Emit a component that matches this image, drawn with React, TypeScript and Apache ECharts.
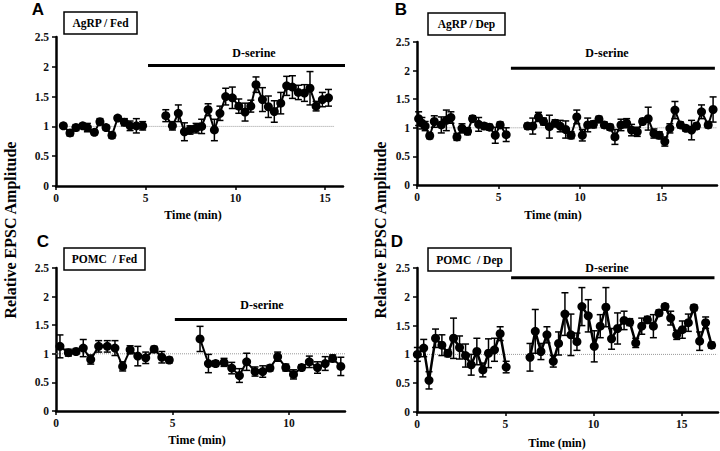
import React, { useEffect, useRef } from "react";
import * as echarts from "echarts";

// ---------- DATA ----------
const PANEL_TITLES = ["AgRP / Fed", "AgRP / Dep", "POMC  / Fed", "POMC  / Dep"];
const PANEL_LETTERS = ["A", "B", "C", "D"];
const DRUG_LABEL = "D-serine";
const X_TICKS = [0, 5, 10, 15];
const Y_TICKS = [0, 0.5, 1, 1.5, 2, 2.5];

// Panel A – AgRP / Fed
const A_PRE_T = [0.41, 0.78, 1.11, 1.49, 1.75, 2.14, 2.45, 2.79, 3.12, 3.44, 3.81, 4.13, 4.48, 4.83];
const A_PRE_V = [1.01, 0.89, 0.98, 1.01, 0.98, 0.9, 1.08, 0.98, 0.85, 1.14, 1.07, 1.01, 1.01, 1.01];
const A_PRE_E = [0.04, 0.05, 0.05, 0.04, 0.07, 0.04, 0.05, 0.04, 0.05, 0.04, 0.06, 0.08, 0.12, 0.07];
const A_POST_T = [6.12, 6.49, 6.82, 7.16, 7.47, 7.81, 8.12, 8.48, 8.83, 9.14, 9.46, 9.83, 10.19, 10.54, 10.86, 11.15, 11.51, 11.84, 12.17, 12.53, 12.86, 13.18, 13.51, 13.85, 14.16, 14.5, 14.85, 15.19];
const A_POST_V = [1.18, 1.01, 1.22, 0.91, 0.94, 0.97, 1.0, 1.28, 0.94, 1.22, 1.5, 1.48, 1.34, 1.24, 1.34, 1.7, 1.45, 1.33, 1.25, 1.39, 1.68, 1.66, 1.57, 1.56, 1.64, 1.34, 1.45, 1.48];
const A_POST_E = [0.1, 0.07, 0.14, 0.15, 0.07, 0.08, 0.12, 0.1, 0.18, 0.12, 0.14, 0.18, 0.12, 0.15, 0.1, 0.13, 0.2, 0.18, 0.18, 0.18, 0.16, 0.19, 0.12, 0.14, 0.28, 0.08, 0.12, 0.14];

// Panel B – AgRP / Dep
const B_PRE_T = [0.1, 0.3, 0.5, 0.78, 1.06, 1.49, 1.8, 2.08, 2.45, 2.76, 3.1, 3.41, 3.78, 4.12, 4.45, 4.8, 5.1, 5.47];
const B_PRE_V = [1.16, 1.08, 1.03, 0.86, 1.11, 1.05, 1.13, 1.18, 0.84, 0.99, 0.94, 1.16, 1.06, 1.03, 1.01, 0.87, 1.05, 0.88];
const B_PRE_E = [0.12, 0.1, 0.08, 0.05, 0.1, 0.14, 0.18, 0.1, 0.06, 0.08, 0.06, 0.05, 0.12, 0.05, 0.05, 0.14, 0.05, 0.12];
const B_POST_T = [6.78, 7.1, 7.45, 7.76, 8.12, 8.47, 8.78, 9.12, 9.45, 9.8, 10.14, 10.47, 10.82, 11.16, 11.49, 11.84, 12.14, 12.51, 12.86, 13.16, 13.51, 13.84, 14.18, 14.53, 14.86, 15.2, 15.51, 15.82, 16.16, 16.49, 16.84, 17.14, 17.45, 17.86, 18.16];
const B_POST_V = [1.03, 1.03, 1.19, 1.11, 1.02, 1.08, 1.03, 0.97, 0.87, 1.19, 0.87, 1.05, 1.06, 1.15, 1.05, 1.01, 0.84, 1.05, 1.08, 0.96, 0.93, 1.11, 1.16, 0.9, 0.87, 0.76, 0.99, 1.31, 1.05, 0.99, 0.96, 1.03, 1.28, 1.05, 1.32];
const B_POST_E = [0.05, 0.14, 0.08, 0.06, 0.2, 0.06, 0.1, 0.15, 0.06, 0.12, 0.1, 0.12, 0.06, 0.05, 0.05, 0.05, 0.13, 0.1, 0.08, 0.1, 0.08, 0.05, 0.2, 0.08, 0.06, 0.08, 0.08, 0.15, 0.05, 0.05, 0.17, 0.05, 0.12, 0.05, 0.22];

// Panel C – POMC / Fed
const C_PRE_T = [0.17, 0.53, 0.86, 1.17, 1.49, 1.83, 2.2, 2.53, 2.86, 3.18, 3.51, 3.85, 4.21, 4.54, 4.86];
const C_PRE_V = [1.13, 1.02, 1.04, 1.1, 0.9, 1.13, 1.13, 1.1, 0.78, 1.07, 0.96, 0.93, 1.08, 0.94, 0.89];
const C_PRE_E = [0.2, 0.06, 0.05, 0.15, 0.08, 0.1, 0.1, 0.13, 0.08, 0.07, 0.17, 0.1, 0.05, 0.1, 0.05];
const C_POST_T = [6.18, 6.54, 6.85, 7.21, 7.54, 7.87, 8.18, 8.54, 8.87, 9.18, 9.51, 9.86, 10.19, 10.54, 10.87, 11.22, 11.55, 11.87, 12.22];
const C_POST_V = [1.26, 0.83, 0.83, 0.85, 0.75, 0.62, 0.86, 0.69, 0.69, 0.75, 0.95, 0.76, 0.64, 0.76, 0.86, 0.76, 0.83, 0.92, 0.78];
const C_POST_E = [0.22, 0.16, 0.05, 0.07, 0.1, 0.12, 0.15, 0.08, 0.1, 0.05, 0.08, 0.06, 0.08, 0.05, 0.1, 0.1, 0.12, 0.06, 0.16];

// Panel D – POMC / Dep
const D_PRE_T = [0.02, 0.38, 0.68, 1.05, 1.41, 1.75, 2.07, 2.41, 2.75, 3.07, 3.39, 3.73, 4.05, 4.39, 4.71, 5.05];
const D_PRE_V = [1.0, 1.11, 0.55, 1.28, 1.16, 1.02, 1.28, 1.12, 0.98, 0.82, 1.05, 0.73, 1.02, 1.08, 1.36, 0.78];
const D_PRE_E = [0.12, 0.15, 0.15, 0.16, 0.18, 0.06, 0.35, 0.2, 0.2, 0.18, 0.23, 0.12, 0.25, 0.2, 0.12, 0.1];
const D_POST_T = [6.4, 6.7, 7.02, 7.36, 7.72, 8.02, 8.38, 8.72, 9.06, 9.34, 9.7, 10.04, 10.38, 10.7, 11.02, 11.36, 11.73, 12.05, 12.39, 12.73, 13.05, 13.39, 13.71, 14.05, 14.37, 14.71, 15.03, 15.37, 15.69, 16.01, 16.35, 16.69];
const D_POST_V = [0.95, 1.4, 1.05, 1.34, 0.88, 1.19, 1.7, 1.34, 1.22, 1.83, 1.67, 1.14, 1.49, 1.82, 1.27, 1.45, 1.59, 1.56, 1.2, 1.49, 1.6, 1.49, 1.72, 1.83, 1.63, 1.34, 1.43, 1.55, 1.81, 1.23, 1.55, 1.16];
const D_POST_E = [0.24, 0.38, 0.14, 0.14, 0.1, 0.2, 0.37, 0.36, 0.15, 0.33, 0.28, 0.27, 0.2, 0.34, 0.18, 0.27, 0.16, 0.06, 0.08, 0.14, 0.06, 0.2, 0.05, 0.05, 0.12, 0.08, 0.15, 0.15, 0.05, 0.16, 0.1, 0.05];

// axis extents, drug application bar (start, end, level), baseline extent
const X_MAX = [16, 18.4, 12.4, 17.05];
const DRUG_START = [5.13, 5.76, 5.1, 5.33];
const DRUG_END = [16.5, 18.27, 12.6, 16.85];
const DRUG_LEVEL = [2.02, 2.04, 1.6, 2.33];
const BASE_START = [0.3, 0.1, 0, 0];
const BASE_END = [15.5, 18.4, 12.45, 17.0];

// ---------- LAYOUT ----------
const GRIDS = [
  { left: 56, top: 37, width: 287, height: 149 },
  { left: 417, top: 42, width: 300, height: 143 },
  { left: 56, top: 268, width: 289, height: 143 },
  { left: 417, top: 268, width: 301, height: 144 },
];
const SERIF = '"Liberation Serif", "Times New Roman", serif';
const SANS = '"Liberation Sans", Arial, sans-serif';

const PANELS = [
  { preT: A_PRE_T, preV: A_PRE_V, preE: A_PRE_E, postT: A_POST_T, postV: A_POST_V, postE: A_POST_E },
  { preT: B_PRE_T, preV: B_PRE_V, preE: B_PRE_E, postT: B_POST_T, postV: B_POST_V, postE: B_POST_E },
  { preT: C_PRE_T, preV: C_PRE_V, preE: C_PRE_E, postT: C_POST_T, postV: C_POST_V, postE: C_POST_E },
  { preT: D_PRE_T, preV: D_PRE_V, preE: D_PRE_E, postT: D_POST_T, postV: D_POST_V, postE: D_POST_E },
];

const LETTER_POS = [[38, 9], [401, 9], [43, 241], [397, 241]];
const BOX_POS = [[64, 12, 73, 22], [428, 13, 77, 22], [64, 248, 81, 22], [428, 248, 83, 23]];
const DRUG_TEXT_POS = [[254, 53], [607, 53], [262, 305], [607, 268]];
const TIME_TEXT_POS = [[193, 215], [553, 215], [197, 440], [557, 443]];
const YLABEL_POS = [[10, 230], [380, 230]];

function errorRenderItem(params: any, api: any) {
  const x = api.value(0);
  const lo = api.coord([x, api.value(1)]);
  const hi = api.coord([x, api.value(2)]);
  const w = 3.5;
  const style = { stroke: "#000", lineWidth: 1.5 };
  return {
    type: "group",
    children: [
      { type: "line", shape: { x1: hi[0], y1: hi[1], x2: lo[0], y2: lo[1] }, style },
      { type: "line", shape: { x1: hi[0] - w, y1: hi[1], x2: hi[0] + w, y2: hi[1] }, style },
      { type: "line", shape: { x1: lo[0] - w, y1: lo[1], x2: lo[0] + w, y2: lo[1] }, style },
    ],
  };
}

export default function App() {
  const ref = useRef<HTMLDivElement>(null);
  useEffect(() => {
    if (!ref.current) return;
    const chart = echarts.init(ref.current, null, { renderer: "svg" });

    const grid = GRIDS.map((g) => ({ ...g, containLabel: false }));
    const xAxis = PANELS.map((_, i) => ({
      type: "value",
      gridIndex: i,
      min: 0,
      max: X_MAX[i],
      splitLine: { show: false },
      axisLine: { show: true, lineStyle: { color: "#000", width: 2.5 } },
      axisTick: { show: true, length: 4, customValues: X_TICKS, lineStyle: { color: "#000", width: 1.5 } },
      axisLabel: {
        customValues: X_TICKS,
        color: "#111",
        fontFamily: SERIF,
        fontWeight: "bold",
        fontSize: 11.5,
        margin: 6,
      },
    }));
    const yAxis = PANELS.map((_, i) => ({
      type: "value",
      gridIndex: i,
      min: 0,
      max: 2.5,
      interval: 0.5,
      splitLine: { show: false },
      axisLine: { show: true, lineStyle: { color: "#000", width: 2.5 } },
      axisTick: { show: true, length: 4, lineStyle: { color: "#000", width: 1.5 } },
      axisLabel: {
        customValues: Y_TICKS,
        color: "#111",
        fontFamily: SERIF,
        fontWeight: "bold",
        fontSize: 11.5,
        margin: 7,
      },
    }));

    const series: any[] = [];
    PANELS.forEach((p, i) => {
      series.push({
        type: "line",
        xAxisIndex: i,
        yAxisIndex: i,
        data: [[BASE_START[i], 1], [BASE_END[i], 1]],
        symbol: "none",
        clip: false,
        lineStyle: { color: "#999", width: 1, type: "dotted" },
        z: 1,
      });
      series.push({
        type: "line",
        xAxisIndex: i,
        yAxisIndex: i,
        data: [[DRUG_START[i], DRUG_LEVEL[i]], [DRUG_END[i], DRUG_LEVEL[i]]],
        symbol: "none",
        clip: false,
        lineStyle: { color: "#000", width: 3 },
      });
      const lw = i === 3 ? 2.5 : 2;
      [[p.preT, p.preV], [p.postT, p.postV]].forEach(([t, v]) => {
        series.push({
          type: "line",
          xAxisIndex: i,
          yAxisIndex: i,
          data: t.map((x: number, k: number) => [x, v[k]]),
          symbol: "circle",
          symbolSize: 9,
          itemStyle: { color: "#000" },
          lineStyle: { color: "#000", width: lw },
          z: 3,
        });
      });
      const errData: number[][] = [];
      [[p.preT, p.preV, p.preE], [p.postT, p.postV, p.postE]].forEach(([t, v, e]) => {
        t.forEach((x: number, k: number) => errData.push([x, v[k] - e[k], v[k] + e[k]]));
      });
      series.push({
        type: "custom",
        xAxisIndex: i,
        yAxisIndex: i,
        data: errData,
        encode: { x: 0, y: [1, 2] },
        renderItem: errorRenderItem,
        z: 2,
      });
    });

    const graphic: any[] = [];
    PANELS.forEach((_, i) => {
      graphic.push({
        type: "text",
        x: LETTER_POS[i][0],
        y: LETTER_POS[i][1],
        style: { text: PANEL_LETTERS[i], font: `bold 17px ${SANS}`, fill: "#000", textAlign: "center", textVerticalAlign: "middle" },
      });
      const b = BOX_POS[i];
      graphic.push({
        type: "rect",
        shape: { x: b[0], y: b[1], width: b[2], height: b[3] },
        style: { fill: "#fff", stroke: "#000", lineWidth: 1.5 },
      });
      graphic.push({
        type: "text",
        x: b[0] + b[2] / 2,
        y: b[1] + b[3] / 2,
        style: { text: PANEL_TITLES[i], font: `bold 11.5px ${SERIF}`, fill: "#000", textAlign: "center", textVerticalAlign: "middle" },
      });
      graphic.push({
        type: "text",
        x: DRUG_TEXT_POS[i][0],
        y: DRUG_TEXT_POS[i][1],
        style: { text: DRUG_LABEL, font: `bold 12px ${SERIF}`, fill: "#000", textAlign: "center", textVerticalAlign: "middle" },
      });
      graphic.push({
        type: "text",
        x: TIME_TEXT_POS[i][0],
        y: TIME_TEXT_POS[i][1],
        style: { text: "Time (min)", font: `bold 12px ${SERIF}`, fill: "#000", textAlign: "center", textVerticalAlign: "middle" },
      });
    });
    YLABEL_POS.forEach(([x, y]) => {
      graphic.push({
        type: "text",
        x,
        y,
        rotation: Math.PI / 2,
        style: { text: "Relative EPSC Amplitude", font: `bold 16px ${SERIF}`, fill: "#000", textAlign: "center", textVerticalAlign: "middle" },
      });
    });

    chart.setOption({
      animation: false,
      backgroundColor: "#fff",
      grid,
      xAxis,
      yAxis,
      series,
      graphic,
    });
    return () => chart.dispose();
  }, []);

  return (
    <div
      ref={ref}
      style={{ position: "fixed", left: 0, top: 0, width: 720, height: 451, background: "#fff" }}
    />
  );
}
